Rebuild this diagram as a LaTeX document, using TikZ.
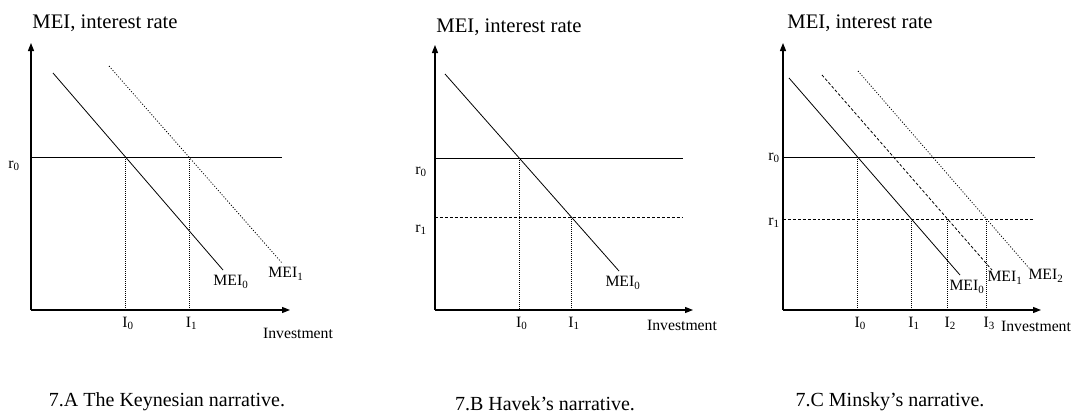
\documentclass[tikz,border=0pt]{standalone}
\usepackage{fontspec}
\setmainfont{Liberation Serif}
\usetikzlibrary{arrows.meta}

\begin{document}
\begin{tikzpicture}[
    x=0.75pt, y=-0.75pt,
    every node/.style={font=\fontsize{11.8}{13}\selectfont, inner sep=1pt},
    title/.style={font=\fontsize{15.5}{17}\selectfont},
    caption/.style={font=\fontsize{15}{17}\selectfont},
    axis/.style={line width=0.9pt, -{Triangle[length=6pt, width=4.5pt]}},
    curve/.style={line width=0.6pt},
    guide/.style={line width=0.5pt, dash pattern=on 0.6pt off 0.9pt},
    shifted/.style={line width=0.6pt, dash pattern=on 0.8pt off 1.3pt},
    lowrate/.style={line width=0.6pt, dash pattern=on 2.2pt off 1.5pt},
    ilabel/.style={below=4pt, xshift=2pt}
]
\useasboundingbox (0,0) rectangle (1073,414);

% --- 7.A Keynesian ---
\node[title] (a-title) at (105,23) {MEI, interest rate};
\coordinate (a-o) at (31,310);
\coordinate (a-ytip) at (31,43);
\coordinate (a-xtip) at (290,310);
\draw[axis] (a-o) -- (a-ytip);
\draw[axis] (a-o) -- (a-xtip);
\coordinate (a-r0) at (31,157);
\coordinate (a-r0end) at (282,157);
\draw[curve] (a-r0) -- (a-r0end);
\coordinate (a-m0s) at (53,73);
\coordinate (a-m0e) at (223,270);
\coordinate (a-m1s) at (109,66);
\coordinate (a-m1e) at (282,263);
\draw[curve] (a-m0s) -- (a-m0e);
\draw[shifted] (a-m1s) -- (a-m1e);
\coordinate (a-e0) at (intersection of a-m0s--a-m0e and a-r0--a-r0end);
\coordinate (a-e1) at (intersection of a-m1s--a-m1e and a-r0--a-r0end);
\draw[guide] (a-e0) -- (a-e0 |- a-o) node[ilabel] (a-i0) {I\textsubscript{0}};
\draw[guide] (a-e1) -- (a-e1 |- a-o) node[ilabel] (a-i1) {I\textsubscript{1}};
\node (a-r0lab) at (14,166) {r\textsubscript{0}};
\node (a-mei0) at (231,282) {MEI\textsubscript{0}};
\node (a-mei1) at (286,274) {MEI\textsubscript{1}};
\node (a-inv) at (298,333) {Investment};
\node[caption] (a-cap) at (167,402) {7.A The Keynesian narrative.};

% --- 7.B Hayek ---
\node[title] (b-title) at (509,27) {MEI, interest rate};
\coordinate (b-o) at (435,310);
\coordinate (b-ytip) at (435,45);
\coordinate (b-xtip) at (693,310);
\draw[axis] (b-o) -- (b-ytip);
\draw[axis] (b-o) -- (b-xtip);
\coordinate (b-r0) at (435,158);
\coordinate (b-r0end) at (683,158);
\coordinate (b-r1) at (435,217);
\coordinate (b-r1end) at (683,217);
\draw[curve] (b-r0) -- (b-r0end);
\draw[lowrate] (b-r1) -- (b-r1end);
\coordinate (b-m0s) at (445,74);
\coordinate (b-m0e) at (619,271);
\draw[curve] (b-m0s) -- (b-m0e);
\coordinate (b-e0) at (intersection of b-m0s--b-m0e and b-r0--b-r0end);
\coordinate (b-e1) at (intersection of b-m0s--b-m0e and b-r1--b-r1end);
\draw[guide] (b-e0) -- (b-e0 |- b-o) node[ilabel] (b-i0) {I\textsubscript{0}};
\draw[guide] (b-e1) -- (b-e1 |- b-o) node[ilabel] (b-i1) {I\textsubscript{1}};
\node (b-r0lab) at (421,172) {r\textsubscript{0}};
\node (b-r1lab) at (421,230) {r\textsubscript{1}};
\node (b-mei0) at (623,283) {MEI\textsubscript{0}};
\node (b-inv) at (682,325) {Investment};
\node[caption] (b-cap) at (545,404) {7.B Havek’s narrative.};

% --- 7.C Minsky ---
\node[title] (c-title) at (860,23) {MEI, interest rate};
\coordinate (c-o) at (783,310);
\coordinate (c-ytip) at (783,43);
\coordinate (c-xtip) at (1041,310);
\draw[axis] (c-o) -- (c-ytip);
\draw[axis] (c-o) -- (c-xtip);
\coordinate (c-r0) at (783,157);
\coordinate (c-r0end) at (1035,157);
\coordinate (c-r1) at (783,219);
\coordinate (c-r1end) at (1033,219);
\draw[curve] (c-r0) -- (c-r0end);
\draw[lowrate] (c-r1) -- (c-r1end);
\coordinate (c-m0s) at (789,78);
\coordinate (c-m0e) at (960,275);
\coordinate (c-m1s) at (822,75);
\coordinate (c-m1e) at (992,270);
\coordinate (c-m2s) at (858,71);
\coordinate (c-m2e) at (1029,268);
\draw[curve] (c-m0s) -- (c-m0e);
\draw[lowrate] (c-m1s) -- (c-m1e);
\draw[shifted] (c-m2s) -- (c-m2e);
\coordinate (c-e0) at (intersection of c-m0s--c-m0e and c-r0--c-r0end);
\coordinate (c-e1) at (intersection of c-m0s--c-m0e and c-r1--c-r1end);
\coordinate (c-e2) at (intersection of c-m1s--c-m1e and c-r1--c-r1end);
\coordinate (c-e3) at (intersection of c-m2s--c-m2e and c-r1--c-r1end);
\draw[guide] (c-e0) -- (c-e0 |- c-o) node[ilabel] (c-i0) {I\textsubscript{0}};
\draw[guide] (c-e1) -- (c-e1 |- c-o) node[ilabel] (c-i1) {I\textsubscript{1}};
\draw[guide] (c-e2) -- (c-e2 |- c-o) node[ilabel] (c-i2) {I\textsubscript{2}};
\draw[guide] (c-e3) -- (c-e3 |- c-o) node[ilabel] (c-i3) {I\textsubscript{3}};
\node (c-r0lab) at (774,158) {r\textsubscript{0}};
\node (c-r1lab) at (774,223) {r\textsubscript{1}};
\node (c-mei0) at (967,287) {MEI\textsubscript{0}};
\node (c-mei1) at (1005,278) {MEI\textsubscript{1}};
\node (c-mei2) at (1046,276) {MEI\textsubscript{2}};
\node (c-inv) at (1036,326) {Investment};
\node[caption] (c-cap) at (890,402) {7.C Minsky’s narrative.};
\end{tikzpicture}
\end{document}
